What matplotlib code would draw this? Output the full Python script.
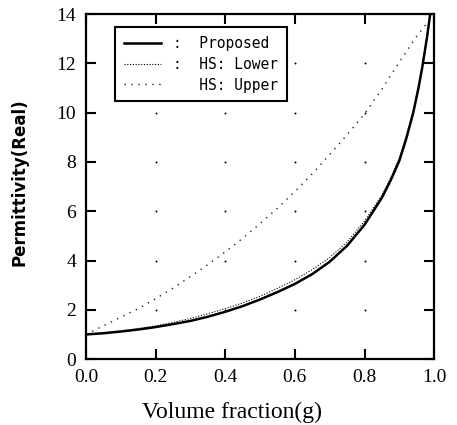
import numpy as np
import matplotlib
matplotlib.use("Agg")
import matplotlib.pyplot as plt

# values
g_prop = [0.0, 0.05, 0.1, 0.15, 0.2, 0.25, 0.3, 0.35, 0.4, 0.45, 0.5, 0.55, 0.6, 0.65,
          0.7, 0.75, 0.8, 0.85, 0.875, 0.9, 0.92, 0.94, 0.955, 0.966, 0.98, 1.0]
eps_prop = [1.0, 1.05, 1.12, 1.2, 1.3, 1.42, 1.55, 1.72, 1.92, 2.15, 2.42, 2.72, 3.05, 3.45,
            3.95, 4.6, 5.45, 6.55, 7.25, 8.05, 8.95, 10.0, 11.0, 11.85, 13.1, 15.2]

g_low = [0.0, 0.05, 0.1, 0.15, 0.2, 0.25, 0.3, 0.35, 0.4, 0.45, 0.5, 0.55, 0.6, 0.65,
         0.7, 0.75, 0.8, 0.85, 0.875, 0.9, 0.92, 0.94, 0.955, 0.966, 0.98, 1.0]
eps_low = [1.0, 1.06, 1.14, 1.24, 1.35, 1.49, 1.65, 1.84, 2.05, 2.28, 2.55, 2.87, 3.22, 3.63,
           4.12, 4.75, 5.6, 6.65, 7.35, 8.15, 9.05, 10.05, 11.05, 11.9, 13.1, 15.2]

g_up = [0.0, 0.05, 0.1, 0.15, 0.2, 0.25, 0.3, 0.35, 0.4, 0.45, 0.5, 0.55, 0.6, 0.65,
        0.7, 0.75, 0.8, 0.85, 0.9, 0.95, 1.0]
eps_up = [1.0, 1.35, 1.7, 2.05, 2.45, 2.88, 3.35, 3.83, 4.35, 4.9, 5.5, 6.12, 6.8, 7.52,
          8.3, 9.1, 9.95, 10.95, 12.05, 13.1, 14.0]

x_ticks = [0.0, 0.2, 0.4, 0.6, 0.8, 1.0]
x_labels = ["0.0", "0.2", "0.4", "0.6", "0.8", "1.0"]
y_ticks = [0, 2, 4, 6, 8, 10, 12, 14]

fig = plt.figure(figsize=(4.57, 4.25), dpi=100)
ax = fig.add_axes([0.188, 0.155, 0.762, 0.812])

ax.plot(g_prop, eps_prop, color="black", lw=1.8, label=":  Proposed")
ax.plot(g_low, eps_low, color="black", lw=0.8, linestyle=(0, (1, 1.5)), label=":  HS: Lower")
ax.plot(g_up, eps_up, color="#222222", lw=1.0, linestyle=(0, (1, 4)), label="   HS: Upper")

# faint grid marks visible in the scan
gx, gy = np.meshgrid(x_ticks[1:-1], y_ticks[1:-1])
ax.scatter(gx.ravel(), gy.ravel(), s=2, color="black", lw=0, zorder=1)

ax.set_xlim(0, 1.0)
ax.set_ylim(0, 14)
ax.set_xticks(x_ticks)
ax.set_xticklabels(x_labels)
ax.set_yticks(y_ticks)

serif = ["Liberation Serif", "DejaVu Serif"]
for lab in ax.get_xticklabels() + ax.get_yticklabels():
    lab.set_family(serif)
    lab.set_fontsize(14)

ax.tick_params(direction="in", length=7, width=1.5, top=True, right=True, pad=7)
for sp in ax.spines.values():
    sp.set_linewidth(1.6)

ax.set_xlabel("Volume fraction(g)", family=serif, fontsize=17)
ax.xaxis.set_label_coords(0.42, -0.125)
ax.set_ylabel("Permittivity(Real)", family="DejaVu Sans", fontweight="bold", fontsize=12)
ax.yaxis.set_label_coords(-0.165, 0.513)

leg = ax.legend(loc="upper left", bbox_to_anchor=(0.083, 0.962), fancybox=False,
                edgecolor="black", framealpha=1, borderaxespad=0,
                prop={"family": "DejaVu Sans Mono", "size": 10.5},
                handlelength=2.6, handletextpad=0.8, labelspacing=0.4, borderpad=0.6)
leg.get_frame().set_linewidth(1.5)

fig.savefig("out.png", dpi=100)
